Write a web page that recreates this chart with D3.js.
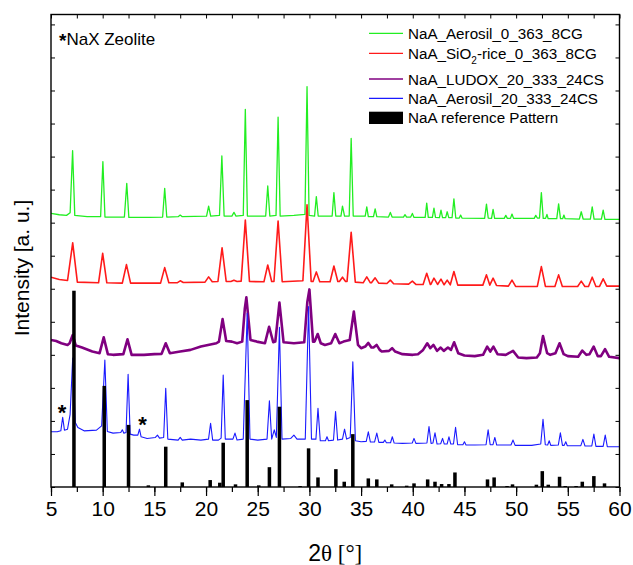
<!DOCTYPE html>
<html><head><meta charset="utf-8">
<script src="https://cdn.jsdelivr.net/npm/d3@7"></script>
<style>html,body{margin:0;padding:0;background:#fff;}svg{display:block;font-family:Arial,"Liberation Sans",sans-serif;}</style>
</head><body>
<svg id="chart" width="633" height="565"></svg>
<script>
// ---- data (2θ in degrees, intensity in a.u. with traces offset as in the figure) ----
const xTicks = [5,10,15,20,25,30,35,40,45,50,55,60];
const seriesNames = ["NaA_Aerosil_0_363_8CG","NaA_SiO2-rice_0_363_8CG","NaA_LUDOX_20_333_24CS","NaA_Aerosil_20_333_24CS"];
const refName = "NaA reference Pattern";
const noteText = "NaX Zeolite";
const axisTitleX = "2θ [°]";
const axisTitleY = "Intensity [a. u.]";

const aerosil0 = [[5.0,8.28],[5.8,8.24],[6.5,8.22],[6.85,8.3],[7.09,10.18],[7.3,8.22],[8.5,8.18],[9.8,8.18],[10.02,9.85],[10.22,8.17],[12.1,8.17],[12.33,9.19],[12.53,8.16],[14.5,8.16],[15.8,8.17],[16.0,9.04],[16.2,8.17],[17.3,8.18],[17.5,8.23],[17.7,8.18],[20.05,8.2],[20.25,8.5],[20.45,8.2],[21.3,8.22],[21.53,10.02],[21.75,8.2],[22.5,8.2],[22.7,8.31],[22.9,8.2],[23.6,8.22],[23.8,11.43],[24.0,8.2],[25.77,8.2],[25.97,9.11],[26.17,8.2],[26.77,8.22],[26.97,11.19],[27.17,8.2],[28.5,8.22],[29.57,8.25],[29.77,12.12],[29.97,8.22],[30.5,8.2],[30.67,8.79],[30.85,8.2],[32.2,8.2],[32.37,8.91],[32.55,8.2],[33.05,8.2],[33.2,8.5],[33.4,8.2],[33.85,8.2],[34.04,10.55],[34.24,8.2],[35.4,8.2],[35.55,8.48],[35.7,8.18],[36.2,8.18],[36.36,8.42],[36.52,8.18],[37.65,8.17],[37.83,8.31],[38.0,8.17],[39.1,8.17],[39.25,8.24],[39.4,8.17],[39.8,8.17],[39.96,8.28],[40.12,8.16],[41.2,8.16],[41.35,8.59],[41.5,8.16],[41.9,8.16],[42.05,8.44],[42.2,8.16],[42.58,8.15],[42.73,8.38],[42.88,8.15],[43.18,8.15],[43.33,8.33],[43.48,8.15],[43.8,8.15],[43.98,8.72],[44.16,8.14],[44.5,8.14],[44.63,8.23],[44.76,8.14],[46.95,8.13],[47.13,8.56],[47.3,8.14],[47.62,8.13],[47.77,8.40],[47.92,8.13],[48.85,8.13],[49.0,8.22],[49.15,8.13],[49.45,8.13],[49.6,8.26],[49.75,8.13],[51.75,8.13],[51.9,8.22],[52.05,8.14],[52.26,8.14],[52.44,8.91],[52.62,8.13],[52.85,8.13],[52.98,8.25],[53.1,8.12],[53.93,8.12],[54.11,8.57],[54.29,8.12],[54.5,8.12],[54.62,8.23],[54.74,8.12],[56.12,8.11],[56.3,8.33],[56.48,8.11],[57.18,8.11],[57.36,8.48],[57.54,8.11],[58.25,8.11],[58.42,8.38],[58.59,8.1],[60,8.1]];

const sio2Rice = [[5.0,6.35],[5.8,6.28],[6.6,6.25],[7.1,7.39],[7.55,6.2],[9.6,6.18],[10.0,7.07],[10.4,6.18],[11.9,6.17],[12.3,6.73],[12.7,6.17],[15.6,6.17],[16.0,6.64],[16.4,6.18],[17.2,6.18],[17.5,6.24],[17.8,6.19],[19.9,6.2],[20.25,6.36],[20.6,6.21],[21.15,6.22],[21.55,7.24],[21.95,6.22],[22.4,6.22],[22.7,6.26],[23.0,6.22],[23.4,6.23],[23.8,8.08],[24.2,6.22],[25.6,6.21],[25.97,6.72],[26.35,6.22],[26.57,6.22],[26.97,8.05],[27.37,6.21],[29.37,6.24],[29.77,8.54],[30.17,6.22],[30.35,6.22],[30.67,6.51],[31.0,6.21],[32.0,6.21],[32.37,6.69],[32.75,6.22],[32.9,6.22],[33.2,6.35],[33.5,6.22],[33.64,6.22],[34.04,7.71],[34.44,6.2],[35.2,6.18],[35.55,6.36],[35.9,6.18],[36.0,6.18],[36.36,6.33],[36.7,6.17],[37.5,6.16],[37.83,6.26],[38.15,6.15],[39.6,6.14],[39.96,6.23],[40.3,6.13],[41.0,6.13],[41.35,6.47],[41.7,6.13],[41.75,6.13],[42.05,6.32],[42.4,6.13],[42.73,6.29],[43.03,6.12],[43.33,6.26],[43.63,6.12],[43.98,6.52],[44.35,6.11],[46.78,6.11],[47.13,6.42],[47.45,6.11],[47.77,6.32],[48.1,6.1],[49.25,6.08],[49.6,6.26],[49.95,6.07],[52.05,6.07],[52.44,6.67],[52.83,6.07],[53.75,6.07],[54.11,6.42],[54.47,6.07],[55.95,6.07],[56.3,6.23],[56.65,6.07],[57.0,6.07],[57.36,6.35],[57.72,6.07],[58.07,6.07],[58.42,6.30],[58.77,6.08],[60,6.08]];

const ludox20 = [[5.0,4.45],[5.5,4.42],[6.0,4.35],[6.6,4.3],[6.8,4.35],[7.1,4.6],[7.4,4.28],[8.0,4.22],[9.0,4.1],[9.7,4.05],[10.1,4.53],[10.5,4.02],[11.0,4.0],[12.0,4.02],[12.4,4.47],[12.8,4.0],[14.0,4.0],[15.0,4.02],[15.7,4.03],[16.1,4.35],[16.5,4.05],[17.5,4.1],[18.5,4.15],[19.5,4.25],[21.0,4.35],[21.25,4.4],[21.6,5.08],[21.95,4.42],[22.5,4.4],[23.0,4.35],[23.5,4.4],[23.75,5.4],[23.9,5.74],[24.3,4.45],[24.9,4.4],[25.7,4.35],[26.1,4.85],[26.5,4.38],[26.7,4.4],[27.1,5.58],[27.5,4.38],[28.5,4.35],[29.5,4.38],[29.8,5.6],[30.0,5.98],[30.35,4.4],[30.5,4.4],[30.8,4.63],[31.1,4.35],[31.5,4.3],[32.1,4.35],[32.5,4.63],[32.9,4.35],[33.3,4.4],[33.9,4.45],[34.3,5.31],[34.7,4.3],[35.0,4.2],[35.4,4.25],[35.7,4.36],[36.0,4.22],[36.2,4.22],[36.5,4.3],[36.8,4.15],[37.0,4.1],[37.7,4.12],[38.0,4.2],[38.3,4.1],[39.0,4.02],[40.0,4.0],[40.5,4.02],[41.0,4.15],[41.4,4.35],[41.7,4.2],[42.0,4.3],[42.35,4.12],[42.7,4.22],[43.0,4.12],[43.4,4.22],[43.7,4.15],[44.0,4.38],[44.4,4.05],[45.0,3.98],[46.0,3.96],[46.8,4.0],[47.2,4.25],[47.5,4.1],[47.8,4.25],[48.2,4.02],[49.0,4.0],[49.7,4.12],[50.2,3.92],[51.0,3.9],[52.0,3.92],[52.3,4.05],[52.6,4.57],[53.0,4.05],[53.3,4.0],[53.8,4.05],[54.2,4.35],[54.6,4.02],[55.0,3.96],[56.0,3.94],[56.4,4.13],[56.8,4.0],[57.1,4.02],[57.5,4.25],[57.9,3.96],[58.2,3.96],[58.6,4.17],[59.0,3.94],[60.0,3.9]];

const aerosil20 = [[5.0,1.67],[5.6,1.67],[5.95,1.7],[6.13,2.11],[6.3,1.72],[6.6,1.75],[6.85,2.2],[7.1,3.9],[7.35,1.95],[7.6,1.8],[8.2,1.7],[9.4,1.72],[9.9,1.85],[10.21,3.84],[10.45,1.68],[11.0,1.63],[11.75,1.65],[11.9,1.73],[12.05,1.63],[12.26,1.65],[12.46,3.41],[12.66,1.6],[13.0,1.57],[13.4,1.57],[13.56,1.75],[13.72,1.52],[14.3,1.47],[15.1,1.5],[15.3,1.57],[15.5,1.48],[15.9,1.5],[16.1,2.99],[16.3,1.45],[17.3,1.42],[17.5,1.5],[17.7,1.42],[18.5,1.45],[19.5,1.42],[20.24,1.45],[20.44,1.93],[20.64,1.42],[21.2,1.42],[21.46,1.48],[21.66,3.39],[21.86,1.45],[22.6,1.45],[22.8,1.63],[23.0,1.42],[23.6,1.45],[23.98,5.26],[24.25,1.45],[25.0,1.42],[25.9,1.45],[26.13,2.61],[26.35,1.45],[26.6,1.73],[26.8,1.5],[27.1,4.83],[27.35,1.45],[28.2,1.47],[28.5,1.57],[28.8,1.45],[29.6,1.45],[29.92,5.46],[30.2,1.45],[30.63,1.45],[30.83,2.38],[31.05,1.4],[31.55,1.4],[31.7,1.52],[31.85,1.4],[32.33,1.42],[32.53,2.28],[32.73,1.42],[33.2,1.45],[33.4,1.75],[33.6,1.45],[33.95,1.5],[34.2,3.79],[34.45,1.4],[35.0,1.37],[35.5,1.38],[35.7,1.67],[35.9,1.36],[36.3,1.36],[36.52,1.63],[36.72,1.35],[37.15,1.35],[37.3,1.42],[37.45,1.34],[37.85,1.34],[38.02,1.52],[38.2,1.33],[39.0,1.32],[39.95,1.33],[40.12,1.47],[40.3,1.32],[41.37,1.33],[41.57,1.83],[41.77,1.32],[41.95,1.33],[42.15,1.64],[42.35,1.3],[42.7,1.31],[42.88,1.47],[43.05,1.3],[43.32,1.3],[43.5,1.52],[43.68,1.3],[43.94,1.3],[44.14,1.81],[44.34,1.28],[44.85,1.28],[45.0,1.37],[45.15,1.27],[46.0,1.27],[47.09,1.28],[47.29,1.73],[47.49,1.28],[47.76,1.28],[47.94,1.50],[48.12,1.27],[49.5,1.27],[49.7,1.42],[49.9,1.26],[51.5,1.26],[52.38,1.3],[52.6,2.05],[52.82,1.28],[53.05,1.27],[53.2,1.40],[53.35,1.26],[54.08,1.27],[54.28,1.64],[54.48,1.26],[54.65,1.26],[54.8,1.37],[54.95,1.25],[56.26,1.25],[56.46,1.44],[56.66,1.24],[57.32,1.24],[57.52,1.60],[57.72,1.23],[58.42,1.23],[58.62,1.57],[58.82,1.22],[60.0,1.22]];

const refPositions = [7.22,10.15,12.5,14.42,16.1,17.7,20.4,21.33,21.66,22.85,23.98,25.1,26.13,27.1,29.1,29.92,30.83,32.56,33.37,34.2,35.7,36.52,37.96,39.41,40.12,41.44,42.15,42.79,43.5,44.08,47.23,47.87,49.12,49.65,51.96,52.53,53.11,54.2,54.75,55.8,56.4,57.52,58.55];
const refHeights   = [5.94,3.06,1.88,0.05,1.22,0.14,0.21,0.13,1.34,0.08,2.63,0.05,0.60,2.43,0.03,1.17,0.29,0.54,0.16,1.60,0.26,0.23,0.08,0.04,0.11,0.23,0.16,0.09,0.09,0.44,0.23,0.29,0.03,0.08,0.07,0.48,0.07,0.31,0.03,0.03,0.16,0.33,0.11];

const nax = [[6.06,2.43],[13.86,2.06]]; // NaX markers

// ---- layout ----
const svg = d3.select("#chart");
const L = 51, R = 619.5, T = 14.5, B = 487;
const x = d3.scaleLinear().domain([5,60]).range([L,R]);
const y = d3.scaleLinear().domain([0,14.3]).range([B,T]);
const colors = ["#22ee22","#ff1a1a","#800080","#1a1aff"];
const widths = [1.3,1.6,2.6,1.1];
const seriesData = [aerosil0, sio2Rice, ludox20, aerosil20];

const line = d3.line().x(d=>x(d[0])).y(d=>y(d[1]));
const plot = svg.append("g");
plot.append("defs").append("clipPath").attr("id","clip").append("rect")
  .attr("x",L).attr("y",T).attr("width",R-L).attr("height",B-T);
const g = plot.append("g").attr("clip-path","url(#clip)");
seriesData.forEach((s,i)=>{
  g.append("path").datum(s).attr("d",line).attr("fill","none")
   .attr("stroke",colors[i]).attr("stroke-width",widths[i]).attr("stroke-linejoin","round");
});
// reference bars
const barW = 0.34;
g.selectAll("rect.ref").data(refPositions).join("rect").attr("class","ref")
  .attr("x",(d)=>x(d - barW/2)).attr("width",x(5+barW)-x(5))
  .attr("y",(d,i)=>y(refHeights[i])).attr("height",(d,i)=>y(0)-y(refHeights[i]))
  .attr("fill","#000");

// NaX asterisks
g.selectAll("text.star").data(nax).join("text").attr("class","star")
  .attr("x",d=>x(d[0])).attr("y",d=>y(d[1])+13).attr("text-anchor","middle")
  .attr("font-size",22).attr("font-weight","bold").text("*");

// ---- axes ----
const ax = svg.append("g");
// bottom
ax.append("g").attr("transform",`translate(0,${B})`)
  .call(d3.axisBottom(x).tickValues(d3.range(5,60.01,2.5)).tickSize(5).tickFormat(""))
  .call(a=>a.select(".domain").remove())
  .call(a=>a.selectAll("line").attr("stroke-width",1.2));
ax.append("g").attr("transform",`translate(0,${B})`)
  .call(d3.axisBottom(x).tickValues(xTicks).tickSize(9).tickPadding(5).tickFormat(d3.format("d")))
  .call(a=>a.select(".domain").remove())
  .call(a=>a.selectAll("line").attr("stroke-width",1.2))
  .call(a=>a.selectAll("text").attr("font-size",21).attr("font-family","Arial, 'Liberation Sans', sans-serif").attr("fill","#000"));
// top (inward)
ax.append("g").attr("transform",`translate(0,${T})`)
  .call(d3.axisBottom(x).tickValues(d3.range(5,60.01,2.5)).tickSize(4).tickFormat(""))
  .call(a=>a.select(".domain").remove());
// left / right (inward)
ax.append("g").attr("transform",`translate(${L},0)`)
  .call(d3.axisRight(y).tickValues(d3.range(0,14.01,1)).tickSize(4).tickFormat(""))
  .call(a=>a.select(".domain").remove());
ax.append("g").attr("transform",`translate(${R},0)`)
  .call(d3.axisLeft(y).tickValues(d3.range(0,14.01,1)).tickSize(4).tickFormat(""))
  .call(a=>a.select(".domain").remove());
// frame
svg.append("rect").attr("x",L).attr("y",T).attr("width",R-L).attr("height",B-T)
  .attr("fill","none").attr("stroke","#000").attr("stroke-width",1.4);

// axis titles
const xt = svg.append("text").attr("x",(L+R)/2+0).attr("y",561).attr("text-anchor","middle").attr("font-size",23);
xt.append("tspan").attr("font-family","Arial, 'Liberation Sans', sans-serif").text(axisTitleX.slice(0,1));
xt.append("tspan").attr("font-family","'Liberation Serif','Times New Roman',serif").text(axisTitleX.slice(1));
svg.append("text").attr("transform","translate(29,268) rotate(-90)").attr("text-anchor","middle")
  .attr("font-size",21).text(axisTitleY);

// note
const nt = svg.append("text").attr("x",59).attr("y",44.5).attr("font-size",17);
nt.append("tspan").attr("font-weight","bold").attr("font-size",19).attr("dy",2).text("*");
nt.append("tspan").attr("dy",-2).text(noteText);

// legend
const legY = [33.3,53.3,79,98.3];
const leg = svg.append("g");
seriesNames.forEach((n,i)=>{
  leg.append("line").attr("x1",369).attr("x2",403).attr("y1",legY[i]).attr("y2",legY[i])
    .attr("stroke",colors[i]).attr("stroke-width",1.3);
  const t = leg.append("text").attr("x",408).attr("y",legY[i]+5.5).attr("font-size",15.2);
  if (n.indexOf("SiO2")>=0){
    const parts = n.split("SiO2");
    t.append("tspan").text(parts[0]+"SiO");
    t.append("tspan").attr("font-size",10).attr("dy",5).text("2");
    t.append("tspan").attr("dy",-5).text(parts[1]);
  } else t.text(n);
});
leg.append("rect").attr("x",369).attr("y",111.7).attr("width",34).attr("height",12.3).attr("fill","#000");
leg.append("text").attr("x",408).attr("y",123.3).attr("font-size",15.2).text(refName);
</script>
</body></html>
